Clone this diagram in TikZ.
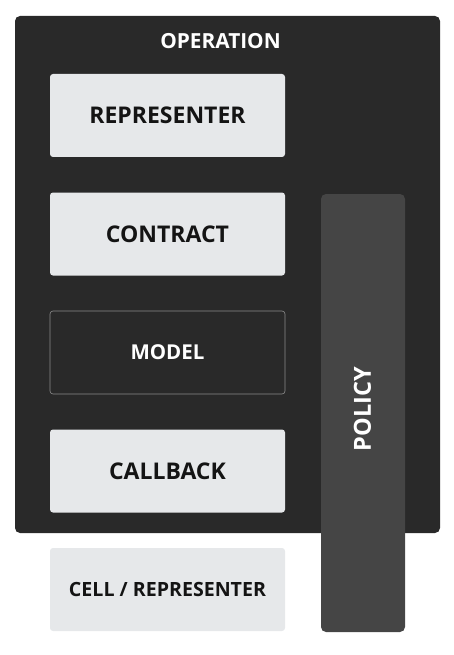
\documentclass[tikz,border=0pt]{standalone}
\usepackage{fontspec}
\setmainfont{Open Sans}
\definecolor{opbg}{HTML}{292929}
\definecolor{lightbox}{HTML}{E6E8EA}
\definecolor{policybg}{HTML}{454545}
\definecolor{modelline}{HTML}{8C8C8C}
\begin{document}
\begin{tikzpicture}[x=1pt,y=-1pt,
  lbox/.style={rectangle,rounded corners=3pt,fill=lightbox,draw=none,minimum width=235pt,minimum height=83pt,inner sep=0pt,font=\fontsize{23}{27}\selectfont\bfseries,text=black!92},
  dbox/.style={rectangle,rounded corners=3pt,fill=opbg,draw=modelline,line width=0.6pt,minimum width=235pt,minimum height=83pt,inner sep=0pt,font=\fontsize{20.5}{25}\selectfont\bfseries,text=white},
  opbox/.style={rectangle,rounded corners=5pt,fill=opbg,draw=none,minimum width=425pt,minimum height=517pt,inner sep=0pt},
  polbox/.style={rectangle,rounded corners=5pt,fill=policybg,draw=none,minimum width=84pt,minimum height=438pt,inner sep=0pt},
  wlabel/.style={text=white,font=\fontsize{20.8}{25}\selectfont\bfseries,inner sep=0pt}
]
\useasboundingbox (0,0) rectangle (453,655);
\node[opbox] (op) at (227.5,274.5) {};
\node[wlabel,anchor=center] (optitle) at (220.5,41) {OPERATION};
\node[lbox] (rep) at (167.5,115.5) {REPRESENTER};
\node[lbox] (con) at (167.5,234) {CONTRACT};
\node[dbox] (mod) at (167.5,352.5) {MODEL};
\node[lbox] (cb) at (167.5,471) {CALLBACK};
\node[lbox,font=\fontsize{19.6}{24}\selectfont\bfseries] (cell) at (167.5,589.5) {CELL / REPRESENTER};
\node[polbox] (pol) at (363,413) {};
\node[wlabel,rotate=90,font=\fontsize{23.5}{28}\selectfont\bfseries] (poltext) at (362.5,409) {POLICY};
\end{tikzpicture}
\end{document}
